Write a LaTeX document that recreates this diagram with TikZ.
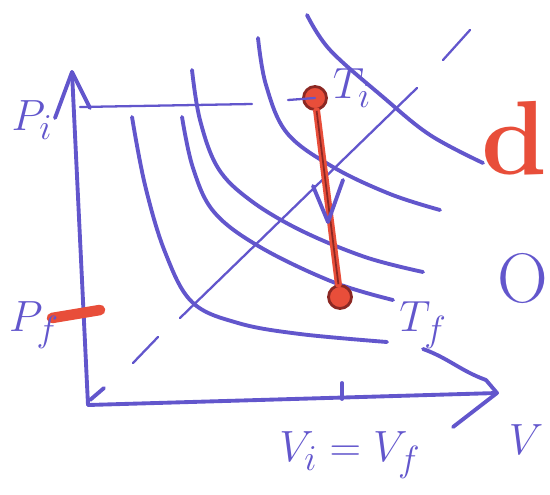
\documentclass[tikz,border=0pt]{standalone}
\usetikzlibrary{arrows.meta}
\definecolor{ink}{RGB}{98,86,204}
\definecolor{marker}{RGB}{232,78,58}
\definecolor{dried}{RGB}{140,40,35}
\tikzset{
  pen/.style={draw=ink,line width=2.2pt,line cap=round,line join=round},
  thin pen/.style={pen,line width=1.3pt},
  lbl/.style={text=ink,font=\fontsize{28}{28}\selectfont,inner sep=0pt},
  state/.style={circle,fill=marker,draw=dried,line width=1.6pt,minimum size=0.46cm,inner sep=0pt},
  process/.style={draw=marker,line width=4pt,line cap=round},
  core/.style={draw=dried,line width=1pt},
}

\begin{document}
\begin{tikzpicture}[x=0.02cm,y=-0.02cm]
  \useasboundingbox (0,0) rectangle (550,494);
  % axes
  \coordinate (o) at (88,405);
  \coordinate (ytop) at (72,72);
  \coordinate (xend) at (497,393);
  \draw[pen] (o) -- (ytop);
  \draw[pen] (55,118) -- (ytop) -- (90,108);
  \draw[pen] (o) -- (xend);
  \draw[pen] (453,427) -- (xend) -- (486,380);
  \draw[pen] (90,400) -- (104,388);
  \coordinate (vtick) at (342,399);
  \draw[pen] (vtick) -- ++(0,-16);
  % P_i level and P_f mark
  \coordinate (pi) at (80,107);
  \draw[thin pen] (pi) -- (252,104);
  \coordinate (pf) at (76,314);
  \draw[marker,line width=6pt,line cap=round] (pf) ++(-24,4) -- ++(48,-8);
  % isotherms
  \draw[pen] plot[smooth,tension=0.6] coordinates {(132,117) (145,185) (165,252) (192,302) (238,323) (300,334) (387,342)};
  \draw[pen] plot[smooth,tension=0.6] coordinates {(182,117) (193,168) (214,212) (260,247) (333,282) (393,300)};
  \draw[pen] plot[smooth,tension=0.6] coordinates {(192,70) (200,120) (218,168) (250,200) (300,230) (365,257) (423,272)};
  \draw[pen] plot[smooth,tension=0.6] coordinates {(258,38) (266,85) (287,133) (333,167) (390,194) (440,210)};
  \draw[pen] plot[smooth,tension=0.6] coordinates {(307,15) (330,50) (383,97) (430,135) (483,163)};
  % diagonal
  \draw[thin pen] (133,363) -- (158,337);
  \draw[thin pen] (180,318) -- (417,88);
  \draw[thin pen] (443,60) -- (470,30);
  % isochoric step
  \node[state] (i) at (315,98) {};
  \node[state] (f) at (340,297) {};
  \draw[process] (i) -- (f);
  \draw[core] (i) -- (f);
  \draw[thin pen] (i.center) -- ++(-27,2);
  \coordinate (tip) at (328,222);
  \draw[pen] (tip) ++(-15,-36) -- (tip) -- ++(15,-42);
  % labels
  \node[lbl] (lpi) at (32,120) {$P_i$};
  \node[lbl] (lpf) at (34,325) {$P_f$};
  \node[lbl] (lv) at (350,455) {$V_i = V_f$};
  \node[lbl] (lx) at (526,440) {$V$};
  \node[lbl] (lti) at (352,88) {$T_i$};
  \node[lbl] (ltf) at (423,325) {$T_f$};
  \draw[pen] (ltf.south) to[out=-20,in=160] (486,380);
  \node[text=marker,font=\fontsize{60}{60}\selectfont\bfseries,inner sep=0pt,anchor=east] (cut1) at (548,138) {d};
  \node[lbl,font=\fontsize{40}{40}\selectfont,anchor=east] (cut2) at (548,278) {O};
\end{tikzpicture}
\end{document}
